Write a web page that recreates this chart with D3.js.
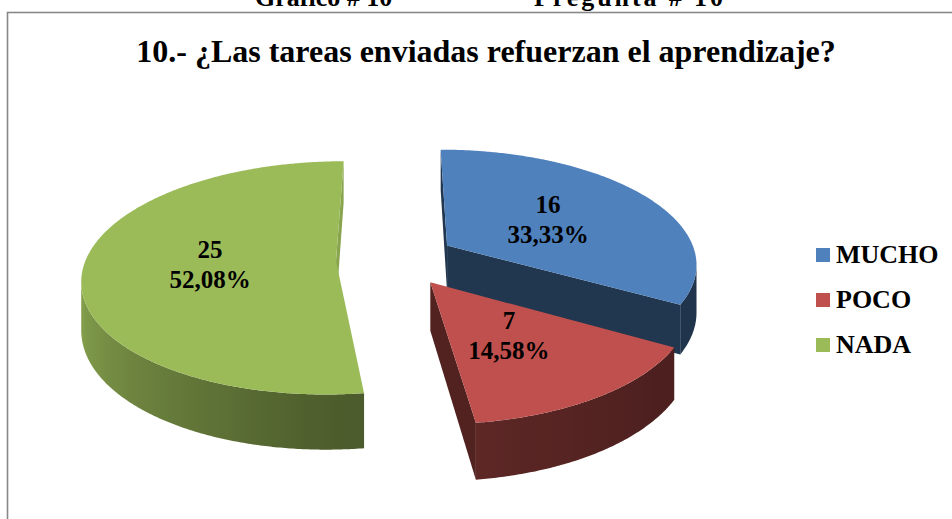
<!DOCTYPE html>
<html>
<head>
<meta charset="utf-8">
<title>Pregunta 10</title>
<script src="https://cdn.jsdelivr.net/npm/d3@7"></script>
<style>
  body { margin: 0; background: #fff; }
  svg { display: block; font-family: "Liberation Serif", "Times New Roman", serif; font-weight: bold; }
</style>
</head>
<body>
<svg width="952" height="519"></svg>
<script>
var categories = ["MUCHO", "POCO", "NADA"];
var counts = [16, 7, 25];
var colors = ["#4F81BD", "#C0504D", "#9BBB59"];
var title = "10.- ¿Las tareas enviadas refuerzan el aprendizaje?";
var header = ["Gráfico # 10", "Pregunta # 10"];

var svg = d3.select("svg");
var total = d3.sum(counts);
var fmt = d3.format(".2f");
function pctLabel(v) { return fmt(v / total * 100).replace(".", ",") + "%"; }

// frame + texts
svg.append("rect")
  .attr("x", 7.5).attr("y", 12.5)
  .attr("width", 1000).attr("height", 600)
  .attr("fill", "none").attr("stroke", "#888").attr("stroke-width", 1.6);

// header of the page, cut by the top edge like in the source
svg.append("text").attr("x", 255).attr("y", 5.5).attr("font-size", 26).text(header[0]);
svg.append("text").attr("x", 534).attr("y", 5.5).attr("font-size", 26)
  .attr("textLength", 189).attr("lengthAdjust", "spacing").text(header[1]);

svg.append("text")
  .attr("x", 486).attr("y", 62)
  .attr("text-anchor", "middle")
  .attr("font-size", 32)
  .text(title);

// 3d projection settings
var cx = 396, cy = 259, rx = 250, ry = 113.6, persp = 0.146, thick = 47, explode = 0.24;
var camZ = 1 / persp;

function project(X, Z, Y) {
  var s = 1 / (1 - persp * Z);
  return [cx + rx * X * s, cy + (ry * Z + thick * Y) * s];
}

// side shading by direction of wall normal (degrees, clockwise from back)
var wallShade = d3.scaleLinear().domain([90, 130, 180, 270]).range([0.4, 0.4, 0.5, 0.92]).clamp(true);

function shade(color, f) {
  var c = d3.rgb(color);
  return d3.rgb(c.r * f, c.g * f, c.b * f).formatHex();
}

var pie = d3.pie().sort(null).value(function(d) { return d; });
var arcs = pie(counts);

var slices = arcs.map(function(a, i) {
  var mid = (a.startAngle + a.endAngle) / 2;
  return {
    i: i, a0: a.startAngle, a1: a.endAngle, mid: mid,
    ox: explode * Math.sin(mid), oz: -explode * Math.cos(mid)
  };
});

function pt(s, ang, r, Y) {
  return project(s.ox + r * Math.sin(ang), s.oz - r * Math.cos(ang), Y);
}

var line = d3.line();
var defs = svg.append("defs");
var g = svg.append("g");

slices.slice().sort(function(a, b) { return a.oz - b.oz; }).forEach(function(s) {
  var col = colors[s.i];
  var sg = g.append("g");
  var step = Math.PI / 360;
  var n = Math.max(2, Math.ceil((s.a1 - s.a0) / step));
  var angs = d3.range(n + 1).map(function(k) { return s.a0 + (s.a1 - s.a0) * k / n; });

  // radial faces
  [[s.a0, s.a0 - Math.PI / 2], [s.a1, s.a1 + Math.PI / 2]].forEach(function(e) {
    var nx = Math.sin(e[1]), nz = -Math.cos(e[1]);
    var mx = s.ox + 0.5 * Math.sin(e[0]), mz = s.oz - 0.5 * Math.cos(e[0]);
    if (nx * (0 - mx) + nz * (camZ - mz) <= 0) return;
    var poly = [pt(s, 0, 0, 0), pt(s, e[0], 1, 0), pt(s, e[0], 1, 1), pt(s, 0, 0, 1)];
    sg.append("path")
      .attr("d", line(poly) + "Z")
      .attr("fill", shade(col, nx < 0 ? 0.42 : 0.88));
  });

  // outer wall, visible runs only
  var vis = angs.map(function(a) {
    var X = s.ox + Math.sin(a), Z = s.oz - Math.cos(a);
    return Math.sin(a) * (0 - X) + (-Math.cos(a)) * (camZ - Z) > 0;
  });
  var runs = [], cur = null;
  angs.forEach(function(a, k) {
    if (vis[k]) { if (!cur) { cur = []; runs.push(cur); } cur.push(a); }
    else cur = null;
  });
  runs.forEach(function(run, r) {
    if (run.length < 2) return;
    var top = run.map(function(a) { return pt(s, a, 1, 0); });
    var bot = run.map(function(a) { return pt(s, a, 1, 1); }).reverse();
    var xs = top.map(function(p) { return p[0]; });
    var x1 = xs[0], x2 = xs[xs.length - 1];
    var id = "wall" + s.i + "_" + r;
    var grad = defs.append("linearGradient").attr("id", id)
      .attr("gradientUnits", "userSpaceOnUse")
      .attr("x1", x1).attr("y1", 0).attr("x2", Math.abs(x2 - x1) < 1 ? x1 + 1 : x2).attr("y2", 0);
    run.forEach(function(a, k) {
      if (k % 6 && k !== run.length - 1) return;
      var deg = ((a * 180 / Math.PI) % 360 + 360) % 360;
      grad.append("stop")
        .attr("offset", Math.abs(x2 - x1) < 1 ? 0 : (xs[k] - x1) / (x2 - x1))
        .attr("stop-color", shade(col, wallShade(deg)));
    });
    sg.append("path")
      .attr("d", line(top.concat(bot)) + "Z")
      .attr("fill", "url(#" + id + ")");
  });

  // top face
  var face = [pt(s, 0, 0, 0)].concat(angs.map(function(a) { return pt(s, a, 1, 0); }));
  sg.append("path").attr("d", line(face) + "Z").attr("fill", col);
});

// data labels
var labels = svg.append("g").attr("font-size", 25).attr("text-anchor", "middle").attr("fill", "#000");
slices.forEach(function(s) {
  var p = pt(s, s.mid, 0.5, 0);
  labels.append("text").attr("x", p[0]).attr("y", p[1] - 6.5).text(counts[s.i]);
  labels.append("text").attr("x", p[0]).attr("y", p[1] + 23.5).text(pctLabel(counts[s.i]));
});

// legend
var legend = svg.append("g").attr("transform", "translate(816,248)");
var items = legend.selectAll("g").data(categories).enter().append("g")
  .attr("transform", function(d, i) { return "translate(0," + i * 45 + ")"; });
items.append("rect").attr("width", 14).attr("height", 14)
  .attr("fill", function(d, i) { return colors[i]; });
items.append("text").attr("x", 20).attr("y", 15).attr("font-size", 26).text(function(d) { return d; });
</script>
</body>
</html>
